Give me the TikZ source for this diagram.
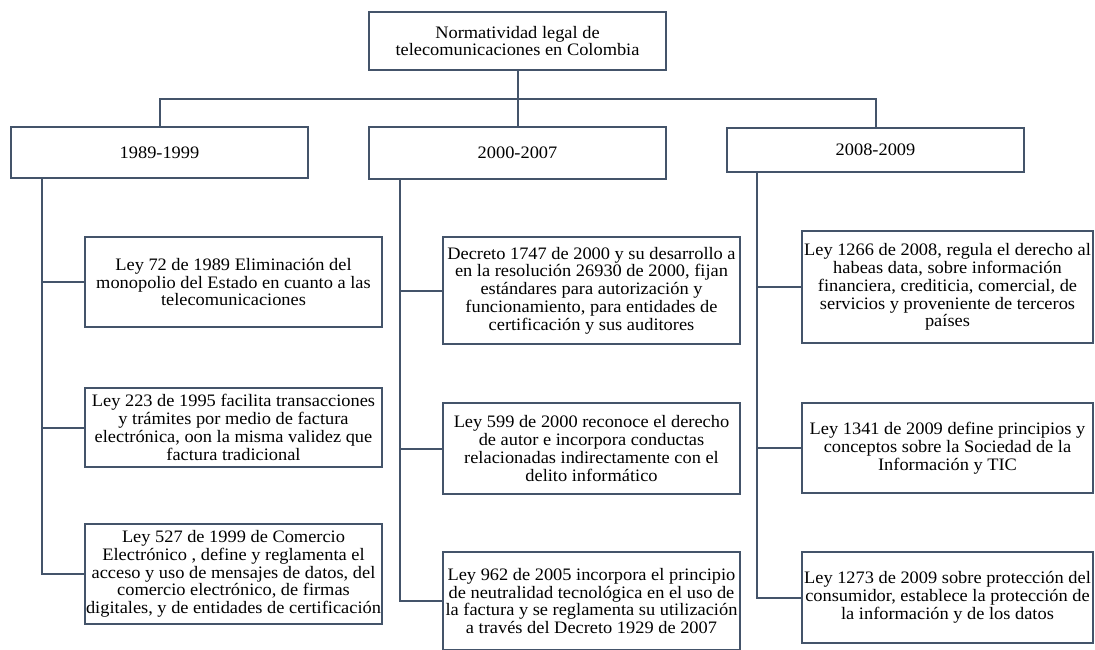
\documentclass[tikz,border=0pt]{standalone}
\usepackage{fontspec}
\setmainfont{Liberation Serif}[FakeStretch=1.05]
\usepackage{tikz}
\definecolor{linec}{HTML}{44546A}

\begin{document}
\begin{tikzpicture}[x=1pt, y=-1pt, link/.style={draw=linec, line width=2pt}, box/.style={draw=linec, line width=2pt, align=center, inner sep=0pt, minimum width=297pt, font=\fontsize{17.5}{17.8}\selectfont}]
        \useasboundingbox (0,0) rectangle (1095,650);
        \node[box, minimum height=58pt, font=\fontsize{17.5}{15.5}\selectfont] (n) at (517.5,41) {Normatividad legal de\\telecomunicaciones en Colombia};
        \node[box, minimum height=51pt] (p1) at (159.5,152.5) {1989-1999};
        \node[box, minimum height=52pt] (p2) at (517.5,153) {2000-2007};
        \node[box, minimum height=44pt] (p3) at (875.5,150) {2008-2009};
        \coordinate (j) at (517.5,99);
        \draw[link] (n) -- (p2);
        \draw[link] (p1.north) |- (j) -| (p3.north);
        \node[box, minimum height=90pt] (a1) at (233.5,282) {Ley 72 de 1989 Eliminación del\\monopolio del Estado en cuanto a las\\telecomunicaciones};
        \node[box, minimum height=79pt] (a2) at (233.5,427.5) {Ley 223 de 1995 facilita transacciones\\y trámites por medio de factura\\electrónica, oon la misma validez que\\factura tradicional};
        \node[box, minimum height=100pt] (a3) at (233.5,574) {Ley 527 de 1999 de Comercio\\Electrónico , define y reglamenta el\\acceso y uso de mensajes de datos, del\\comercio electrónico, de firmas\\digitales, y de entidades de certificación};
        \node[box, minimum height=107pt] (b1) at (591.5,290.5) {Decreto 1747 de 2000 y su desarrollo a\\en la resolución 26930 de 2000, fijan\\estándares para autorización y\\funcionamiento, para entidades de\\certificación y sus auditores};
        \node[box, minimum height=91pt] (b2) at (591.5,448.5) {Ley 599 de 2000 reconoce el derecho\\de autor e incorpora conductas\\relacionadas indirectamente con el\\delito informático};
        \node[box, minimum height=98pt] (b3) at (591.5,601) {Ley 962 de 2005 incorpora el principio\\de neutralidad tecnológica en el uso de\\la factura y se reglamenta su utilización\\a través del Decreto 1929 de 2007};
        \node[box, minimum width=291pt, minimum height=112pt] (c1) at (947.5,287) {Ley 1266 de 2008, regula el derecho al\\habeas data, sobre información\\financiera, crediticia, comercial, de\\servicios y proveniente de terceros\\países};
        \node[box, minimum width=291pt, minimum height=90pt] (c2) at (947.5,448) {Ley 1341 de 2009 define principios y\\conceptos sobre la Sociedad de la\\Información y TIC};
        \node[box, minimum width=291pt, minimum height=91pt] (c3) at (947.5,597.5) {Ley 1273 de 2009 sobre protección del\\consumidor, establece la protección de\\la información y de los datos};
        \coordinate (s1) at (42,0);
        \coordinate (s2) at (400,0);
        \coordinate (s3) at (757,0);
        \draw[link] (s1 |- p1.south) |- (a3);
        \draw[link] (s1 |- a1) -- (a1);
        \draw[link] (s1 |- a2) -- (a2);
        \draw[link] (s2 |- p2.south) |- (b3);
        \draw[link] (s2 |- b1) -- (b1);
        \draw[link] (s2 |- b2) -- (b2);
        \draw[link] (s3 |- p3.south) |- (c3);
        \draw[link] (s3 |- c1) -- (c1);
        \draw[link] (s3 |- c2) -- (c2);
    \end{tikzpicture}
\end{document}
